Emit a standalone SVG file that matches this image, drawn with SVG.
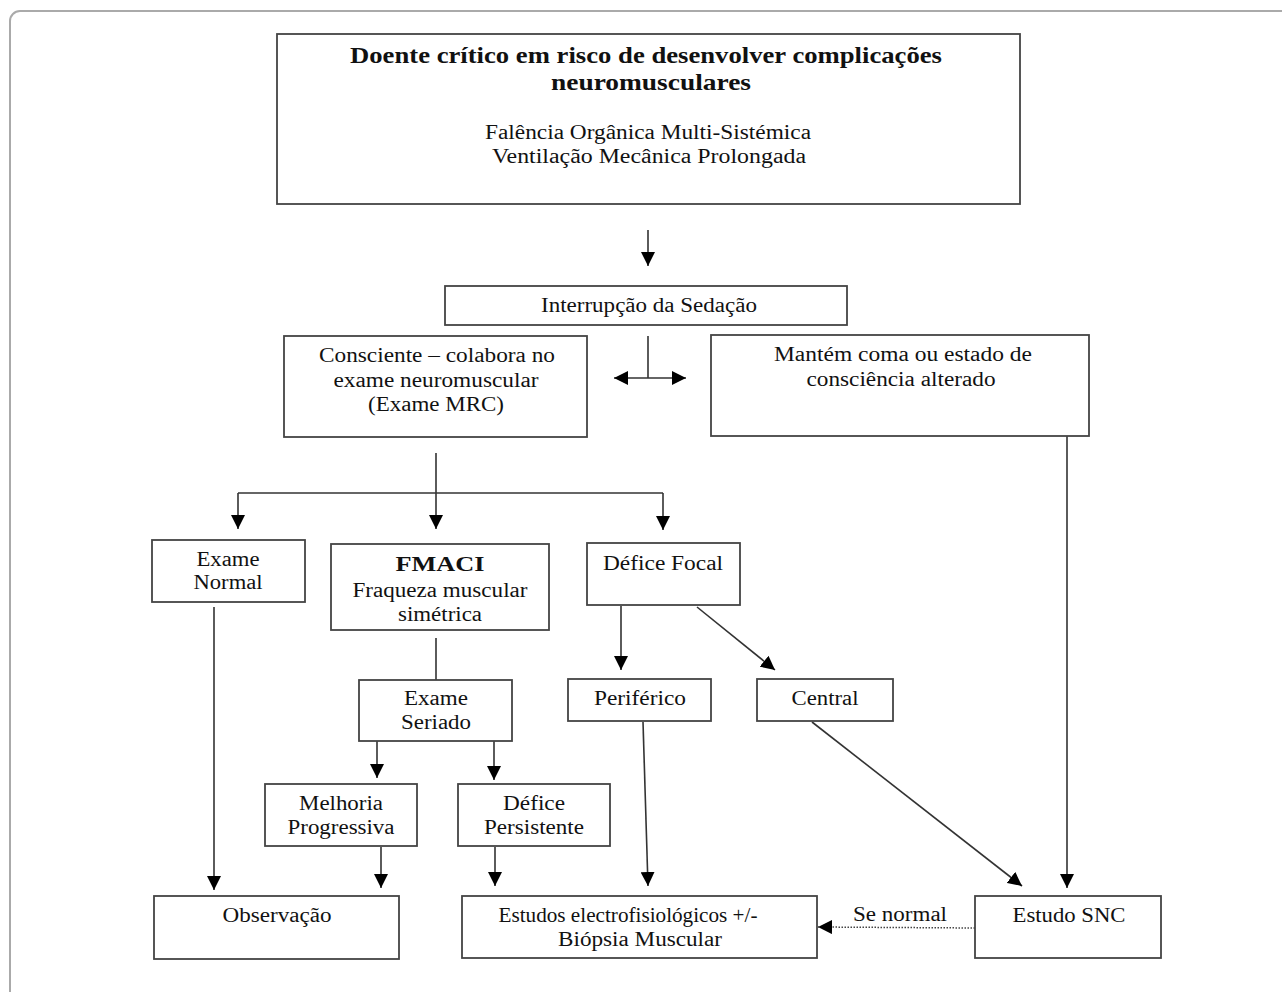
<svg xmlns="http://www.w3.org/2000/svg" width="1282" height="992" viewBox="0 0 1282 992">
<defs>
<marker id="ahL" viewBox="0 0 10 10" refX="10" refY="5" markerWidth="14" markerHeight="14" markerUnits="userSpaceOnUse" orient="auto">
<path d="M0,0 L10,5 L0,10 z" fill="#000"/>
</marker>
</defs>
<style>
.box{fill:#fff;stroke:#444;stroke-width:1.8}
.t{font-family:"Liberation Serif","Times New Roman",serif;font-size:20px;fill:#111;text-anchor:middle}
.b{font-weight:bold}
.ln{stroke:#333;stroke-width:1.6;fill:none}
.ar{stroke:#333;stroke-width:1.6;fill:none;marker-end:url(#ahL)}
</style>
<rect width="1282" height="992" fill="#fff"/>
<rect x="10" y="11" width="1300" height="1000" rx="10" fill="none" stroke="#aaa" stroke-width="2"/>

<g id="connectors">
<line class="ar" x1="648" y1="230" x2="648" y2="266"/>
<line class="ln" x1="648" y1="336" x2="648" y2="378"/>
<line class="ar" x1="648" y1="378" x2="614" y2="378"/>
<line class="ar" x1="648" y1="378" x2="686" y2="378"/>
<line class="ln" x1="436" y1="453" x2="436" y2="493"/>
<line class="ln" x1="238" y1="493" x2="663" y2="493"/>
<line class="ar" x1="238" y1="493" x2="238" y2="529"/>
<line class="ar" x1="436" y1="493" x2="436" y2="529"/>
<line class="ar" x1="663" y1="493" x2="663" y2="530"/>
<line class="ln" x1="436" y1="638" x2="436" y2="680"/>
<line class="ar" x1="621" y1="606" x2="621" y2="670"/>
<line class="ar" x1="697" y1="607" x2="775" y2="670"/>
<line class="ar" x1="377" y1="741" x2="377" y2="778"/>
<line class="ar" x1="494" y1="741" x2="494" y2="780"/>
<line class="ar" x1="214" y1="607" x2="214" y2="890"/>
<line class="ar" x1="381" y1="847" x2="381" y2="888"/>
<line class="ar" x1="495" y1="847" x2="495" y2="886"/>
<line class="ar" x1="643" y1="722" x2="648" y2="886"/>
<line class="ar" x1="812" y1="722" x2="1022" y2="886"/>
<line class="ar" x1="1067" y1="436" x2="1067" y2="888"/>
<line x1="975" y1="928" x2="818" y2="927" stroke="#444" stroke-width="1.5" stroke-dasharray="1.5,1.5" marker-end="url(#ahL)"/>
<text class="t" x="900" y="921" textLength="94" lengthAdjust="spacingAndGlyphs">Se normal</text>
</g>

<g id="n-top">
<rect class="box" x="277" y="34" width="743" height="170"/>
<text class="t b" x="646" y="63" style="font-size:23px" textLength="592" lengthAdjust="spacingAndGlyphs">Doente crítico em risco de desenvolver complicações</text>
<text class="t b" x="651" y="90" style="font-size:23px" textLength="200" lengthAdjust="spacingAndGlyphs">neuromusculares</text>
<text class="t" x="648" y="139" textLength="326" lengthAdjust="spacingAndGlyphs">Falência Orgânica Multi-Sistémica</text>
<text class="t" x="649" y="163" textLength="314" lengthAdjust="spacingAndGlyphs">Ventilação Mecânica Prolongada</text>
</g>
<g id="n-interrupcao">
<rect class="box" x="445" y="286" width="402" height="39"/>
<text class="t" x="649" y="312" textLength="216" lengthAdjust="spacingAndGlyphs">Interrupção da Sedação</text>
</g>
<g id="n-consciente">
<rect class="box" x="284" y="336" width="303" height="101"/>
<text class="t" x="437" y="362" textLength="236" lengthAdjust="spacingAndGlyphs">Consciente – colabora no</text>
<text class="t" x="436" y="387" textLength="205" lengthAdjust="spacingAndGlyphs">exame neuromuscular</text>
<text class="t" x="436" y="411" textLength="136" lengthAdjust="spacingAndGlyphs">(Exame MRC)</text>
</g>
<g id="n-mantem">
<rect class="box" x="711" y="335" width="378" height="101"/>
<text class="t" x="903" y="361" textLength="258" lengthAdjust="spacingAndGlyphs">Mantém coma ou estado de</text>
<text class="t" x="901" y="386" textLength="189" lengthAdjust="spacingAndGlyphs">consciência alterado</text>
</g>
<g id="n-normal">
<rect class="box" x="152" y="540" width="153" height="62"/>
<text class="t" x="228" y="566" textLength="63" lengthAdjust="spacingAndGlyphs">Exame</text>
<text class="t" x="228" y="589" textLength="69" lengthAdjust="spacingAndGlyphs">Normal</text>
</g>
<g id="n-fmaci">
<rect class="box" x="331" y="544" width="218" height="86"/>
<text class="t b" x="440" y="571" style="font-size:21px" textLength="89" lengthAdjust="spacingAndGlyphs">FMACI</text>
<text class="t" x="440" y="597" textLength="175" lengthAdjust="spacingAndGlyphs">Fraqueza muscular</text>
<text class="t" x="440" y="621" textLength="84" lengthAdjust="spacingAndGlyphs">simétrica</text>
</g>
<g id="n-focal">
<rect class="box" x="587" y="543" width="153" height="62"/>
<text class="t" x="663" y="570" textLength="120" lengthAdjust="spacingAndGlyphs">Défice Focal</text>
</g>
<g id="n-periferico">
<rect class="box" x="568" y="679" width="143" height="42"/>
<text class="t" x="640" y="705" textLength="92" lengthAdjust="spacingAndGlyphs">Periférico</text>
</g>
<g id="n-central">
<rect class="box" x="757" y="679" width="136" height="42"/>
<text class="t" x="825" y="705" textLength="67" lengthAdjust="spacingAndGlyphs">Central</text>
</g>
<g id="n-seriado">
<rect class="box" x="359" y="680" width="153" height="61"/>
<text class="t" x="436" y="705" textLength="64" lengthAdjust="spacingAndGlyphs">Exame</text>
<text class="t" x="436" y="729" textLength="70" lengthAdjust="spacingAndGlyphs">Seriado</text>
</g>
<g id="n-melhoria">
<rect class="box" x="265" y="784" width="152" height="62"/>
<text class="t" x="341" y="810" textLength="84" lengthAdjust="spacingAndGlyphs">Melhoria</text>
<text class="t" x="341" y="834" textLength="107" lengthAdjust="spacingAndGlyphs">Progressiva</text>
</g>
<g id="n-persistente">
<rect class="box" x="458" y="784" width="152" height="62"/>
<text class="t" x="534" y="810" textLength="62" lengthAdjust="spacingAndGlyphs">Défice</text>
<text class="t" x="534" y="834" textLength="100" lengthAdjust="spacingAndGlyphs">Persistente</text>
</g>
<g id="n-observacao">
<rect class="box" x="154" y="896" width="245" height="63"/>
<text class="t" x="277" y="922" textLength="109" lengthAdjust="spacingAndGlyphs">Observação</text>
</g>
<g id="n-estudos">
<rect class="box" x="462" y="896" width="355" height="62"/>
<text class="t" x="628" y="922" textLength="259" lengthAdjust="spacingAndGlyphs">Estudos electrofisiológicos +/-</text>
<text class="t" x="640" y="946" textLength="164" lengthAdjust="spacingAndGlyphs">Biópsia Muscular</text>
</g>
<g id="n-snc">
<rect class="box" x="975" y="896" width="186" height="62"/>
<text class="t" x="1069" y="922" textLength="113" lengthAdjust="spacingAndGlyphs">Estudo SNC</text>
</g>
</svg>
